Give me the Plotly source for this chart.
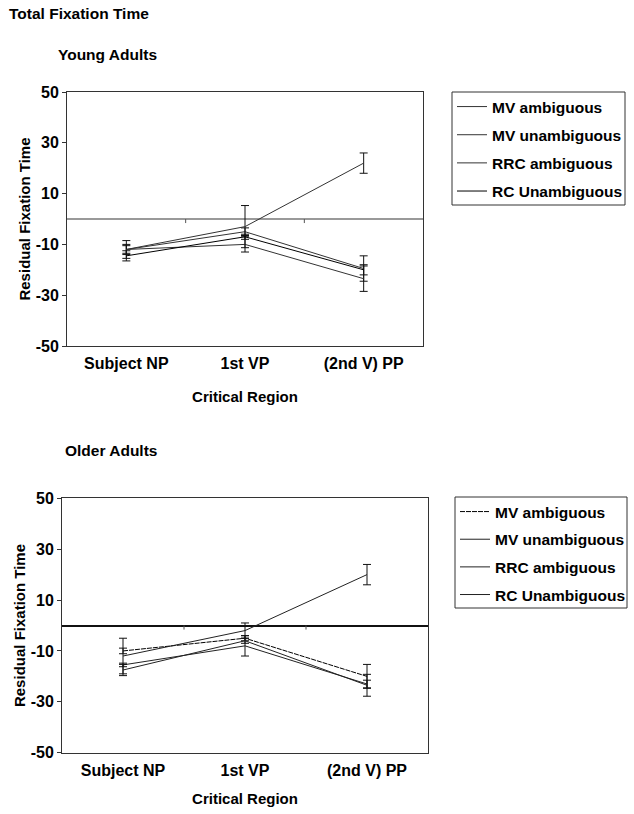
import plotly.graph_objects as go

# Regions of the sentence on the x axis
regions = ["Subject NP", "1st VP", "(2nd V) PP"]
conditions = ["MV ambiguous", "MV unambiguous", "RRC ambiguous", "RC Unambiguous"]

# Young adults: residual total fixation time (ms) and standard errors
young_mv_amb = [-12.0, -5.0, -19.5]
young_mv_unamb = [-12.0, -10.0, -23.5]
young_rrc_amb = [-12.0, -3.0, 22.0]
young_rc_unamb = [-14.5, -7.0, -20.0]
young_err_mv_amb = [2.0, 1.5, 5.0]
young_err_mv_unamb = [3.5, 3.0, 5.0]
young_err_rrc_amb = [1.5, 8.3, 4.0]
young_err_rc_unamb = [2.0, 1.0, 2.0]

# Older adults: residual total fixation time (ms) and standard errors
older_mv_amb = [-10.0, -5.0, -20.0]
older_mv_unamb = [-15.5, -8.0, -23.0]
older_rrc_amb = [-12.0, -2.0, 20.0]
older_rc_unamb = [-17.5, -6.0, -23.5]
older_err_mv_amb = [1.1, 1.0, 4.7]
older_err_mv_unamb = [0.7, 4.0, 1.5]
older_err_rrc_amb = [7.0, 3.0, 4.0]
older_err_rc_unamb = [2.2, 1.0, 4.3]

y_ticks = [-50, -30, -10, 10, 30, 50]

W, H = 634, 814
FONT = "Liberation Sans, Arial, sans-serif"


def px_x(v):
    return v / W


def px_y(v):
    return 1 - v / H


young = [
    (young_mv_amb, young_err_mv_amb, "#333333", "solid"),
    (young_mv_unamb, young_err_mv_unamb, "#333333", "solid"),
    (young_rrc_amb, young_err_rrc_amb, "#333333", "solid"),
    (young_rc_unamb, young_err_rc_unamb, "#000000", "solid"),
]
older = [
    (older_mv_amb, older_err_mv_amb, "#000000", "5px,1px"),
    (older_mv_unamb, older_err_mv_unamb, "#222222", "solid"),
    (older_rrc_amb, older_err_rrc_amb, "#222222", "solid"),
    (older_rc_unamb, older_err_rc_unamb, "#222222", "solid"),
]

fig = go.Figure()

for name, (vals, err, col, dash) in zip(conditions, young):
    fig.add_trace(go.Scatter(
        x=regions, y=vals, name=name, mode="lines",
        line=dict(color=col, width=1, dash=dash),
        error_y=dict(type="data", array=err, visible=True,
                     color="#111111", thickness=1, width=4),
        xaxis="x", yaxis="y", legend="legend", legendgroup="young " + name,
    ))

for name, (vals, err, col, dash) in zip(conditions, older):
    fig.add_trace(go.Scatter(
        x=regions, y=vals, name=name, mode="lines",
        line=dict(color=col, width=1, dash=dash),
        error_y=dict(type="data", array=err, visible=True,
                     color="#111111", thickness=1, width=4),
        xaxis="x2", yaxis="y2", legend="legend2", legendgroup="older " + name,
    ))

tick_font = dict(family=FONT, size=16, color="#000000", weight="bold")
title_font = dict(family=FONT, size=15, color="#000000", weight="bold")


def x_axis(domain, anchor, standoff):
    return dict(
        domain=domain, anchor=anchor, type="category", automargin=False,
        range=[-0.5, len(regions) - 0.5],
        showline=True, mirror=True, linecolor="#333333", linewidth=1,
        showgrid=False, ticks="", tickfont=tick_font, ticklabelstandoff=3,
        title=dict(text="Critical Region", font=title_font, standoff=standoff),
    )


def y_axis(domain, anchor, zero_color):
    return dict(
        domain=domain, anchor=anchor, range=[-50, 50], automargin=False,
        tickvals=y_ticks, ticktext=[str(v) for v in y_ticks],
        ticks="outside", ticklen=4, tickcolor="#333333",
        showline=True, mirror=True, linecolor="#333333", linewidth=1,
        showgrid=False, zeroline=True, zerolinecolor=zero_color,
        zerolinewidth=1.6, tickfont=tick_font,
        title=dict(text="Residual Fixation Time", font=title_font, standoff=1),
    )


legend_style = dict(
    borderwidth=0, bgcolor="rgba(0,0,0,0)",
    font=dict(family=FONT, size=15.5, color="#000000", weight="bold"),
    xanchor="left", yanchor="top", itemwidth=30,
)

fig.update_layout(
    width=W, height=H,
    margin=dict(l=0, r=0, t=0, b=0, autoexpand=False),
    paper_bgcolor="white", plot_bgcolor="white",
    xaxis=x_axis([px_x(67), px_x(423)], "y", 20),
    yaxis=y_axis([px_y(346), px_y(92)], "x", "#999999"),
    xaxis2=x_axis([px_x(62), px_x(428)], "y2", 15),
    yaxis2=y_axis([px_y(752.7), px_y(498.3)], "x2", "#111111"),
    legend=dict(x=px_x(452), y=px_y(90), tracegroupgap=5, **legend_style),
    legend2=dict(x=px_x(455), y=px_y(495), tracegroupgap=4.5, **legend_style),
    showlegend=True,
)

# Frames around the two legends
for x0, y0, x1, y1 in ((452, 92, 625, 205), (455, 497, 627, 608)):
    fig.add_shape(type="rect", xref="paper", yref="paper",
                  x0=px_x(x0), x1=px_x(x1), y0=px_y(y1), y1=px_y(y0),
                  line=dict(color="#333333", width=1))

# Small tick marks on the zero line between the regions
for i in range(len(regions) - 1):
    for xr, yr in (("x", "y"), ("x2", "y2")):
        fig.add_shape(type="line", xref=xr, yref=yr,
                      x0=i + 0.5, x1=i + 0.5, y0=0, y1=-1.6,
                      line=dict(color="#555555", width=1))

headings = [
    ("Total Fixation Time", 7, 14),
    ("Young Adults", 56, 54),
    ("Older Adults", 63, 450),
]
for text, x, y in headings:
    fig.add_annotation(
        text=text, xref="paper", yref="paper", x=px_x(x), y=px_y(y),
        xanchor="left", yanchor="middle", showarrow=False,
        font=dict(family=FONT, size=15.5, color="#000000", weight="bold"),
    )

fig.write_html("out.html")
